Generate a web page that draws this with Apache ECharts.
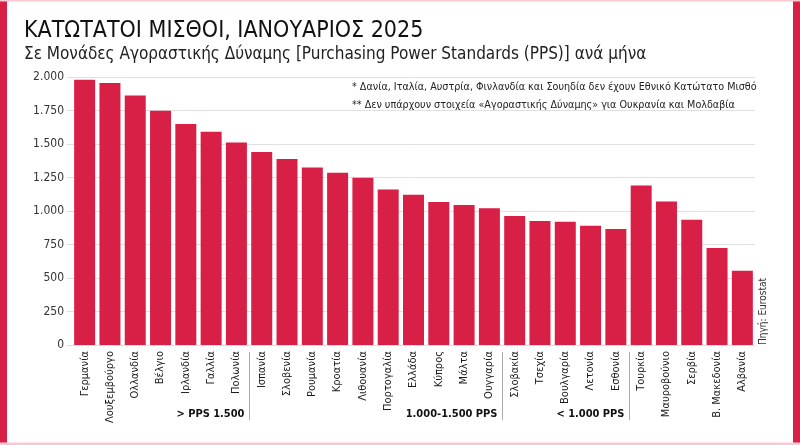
<!DOCTYPE html>
<html>
<head>
<meta charset="utf-8">
<script src="https://cdn.jsdelivr.net/npm/echarts@6/dist/echarts.min.js"></script>
<style>
  html, body { margin: 0; padding: 0; background: #fff; }
  #chart { width: 800px; height: 445px; }
</style>
</head>
<body>
<div id="chart"></div>
<script>
// χώρες και τιμές (PPS ανά μήνα), διαβασμένα από το γράφημα
const countries = ['Γερμανία', 'Λουξεμβούργο', 'Ολλανδία', 'Βέλγιο', 'Ιρλανδία', 'Γαλλία', 'Πολωνία',
    'Ισπανία', 'Σλοβενία', 'Ρουμανία', 'Κροατία', 'Λιθουανία', 'Πορτογαλία', 'Ελλάδα', 'Κύπρος', 'Μάλτα', 'Ουγγαρία',
    'Σλοβακία', 'Τσεχία', 'Βουλγαρία', 'Λετονία', 'Εσθονία',
    'Τουρκία', 'Μαυροβούνιο', 'Σερβία', 'Β. Μακεδονία', 'Αλβανία'];
const wages = [1980, 1955, 1862, 1748, 1650, 1592, 1512,
    1440, 1388, 1325, 1286, 1248, 1160, 1122, 1068, 1044, 1020,
    962, 925, 920, 890, 866,
    1190, 1070, 935, 724, 555];
const yTicks = [0, 250, 500, 750, 1000, 1250, 1500, 1750, 2000];
// ομάδες: τελευταίος δείκτης κάθε ομάδας και ετικέτα
const groupEnds = [6, 16, 21];
const groupLabels = ['> PPS 1.500', '1.000-1.500 PPS', '< 1.000 PPS'];

const RED = '#d81f45';
const FONT = '"Liberation Sans Narrow", "DejaVu Sans Condensed", "Noto Sans", sans-serif';

var chart = echarts.init(document.getElementById('chart'));

var option = {
    animation: false,
    backgroundColor: '#fff',
    grid: { left: 72, right: 45, top: 77, bottom: 100 },
    xAxis: {
        type: 'category',
        data: countries,
        axisLine: { show: false },
        axisTick: { show: false },
        axisLabel: {
            rotate: 90,
            interval: 0,
            margin: 6,
            fontFamily: FONT,
            fontSize: 11,
            color: '#1a1a1a'
        }
    },
    yAxis: {
        type: 'value',
        min: yTicks[0],
        max: yTicks[yTicks.length - 1],
        interval: 250,
        axisLine: { show: false },
        axisTick: { show: true, length: 5, lineStyle: { color: '#dcdcdc' } },
        axisLabel: {
            margin: 8,
            fontFamily: FONT,
            fontSize: 12,
            color: '#333',
            formatter: function (v) {
                return v >= 1000 ? Math.floor(v / 1000) + '.' + String(v % 1000).padStart(3, '0') : String(v);
            }
        },
        splitLine: { lineStyle: { color: '#e0e0e0', width: 1 } }
    },
    series: [{
        type: 'bar',
        data: wages,
        barCategoryGap: '17%',
        itemStyle: { color: RED }
    }]
};
chart.setOption(option);

var zeroY = chart.convertToPixel({ yAxisIndex: 0 }, 0);
var lastX = chart.convertToPixel({ xAxisIndex: 0 }, countries.length - 1);
var bandW = chart.convertToPixel({ xAxisIndex: 0 }, 1) - chart.convertToPixel({ xAxisIndex: 0 }, 0);

// πλαίσιο, τίτλοι, σημειώσεις
var g = [
    { type: 'rect', shape: { x: 0, y: 0, width: 7, height: 445 }, style: { fill: RED } },
    { type: 'rect', shape: { x: 793, y: 0, width: 7, height: 445 }, style: { fill: RED } },
    { type: 'rect', shape: { x: 0, y: 0, width: 800, height: 1.5 }, style: { fill: '#f6c9d3' } },
    { type: 'rect', shape: { x: 0, y: 442.5, width: 800, height: 2.5 }, style: { fill: '#f6c9d3' } },
    { type: 'text', left: 24, top: 20, style: { text: 'ΚΑΤΩΤΑΤΟΙ ΜΙΣΘΟΙ, ΙΑΝΟΥΑΡΙΟΣ 2025', font: '23px ' + FONT, fill: '#111' } },
    { type: 'text', left: 24, top: 46, style: { text: 'Σε Μονάδες Αγοραστικής Δύναμης [Purchasing Power Standards (PPS)] ανά μήνα', font: '17px ' + FONT, fill: '#222' } },
    { type: 'text', left: 352, top: 82, style: { text: '* Δανία, Ιταλία, Αυστρία, Φινλανδία και Σουηδία δεν έχουν Εθνικό Κατώτατο Μισθό', font: '10.7px ' + FONT, fill: '#222' } },
    { type: 'text', left: 352, top: 100, style: { text: '** Δεν υπάρχουν στοιχεία «Αγοραστικής Δύναμης» για Ουκρανία και Μολδαβία', font: '10.7px ' + FONT, fill: '#222' } },
    // πηγή, κάθετα δίπλα στην τελευταία μπάρα
    {
        type: 'text', x: lastX + bandW / 2 + 3, y: zeroY, rotation: Math.PI / 2,
        style: { text: 'Πηγή: Eurostat', font: '10px ' + FONT, fill: '#333', textAlign: 'left', textVerticalAlign: 'top' }
    }
];

// διαχωριστικά ομάδων και ετικέτες
groupEnds.forEach(function (idx, i) {
    var sx = Math.round(chart.convertToPixel({ xAxisIndex: 0 }, idx) + bandW / 2) + 0.5;
    g.push({ type: 'line', shape: { x1: sx, y1: zeroY + 7, x2: sx, y2: zeroY + 75 }, style: { stroke: '#aaa', lineWidth: 1 } });
    g.push({ type: 'text', x: sx - 5, y: zeroY + 69, style: { text: groupLabels[i], font: 'bold 11px ' + FONT, fill: '#111', textAlign: 'right', textVerticalAlign: 'middle' } });
});

chart.setOption({ graphic: g });
</script>
</body>
</html>
